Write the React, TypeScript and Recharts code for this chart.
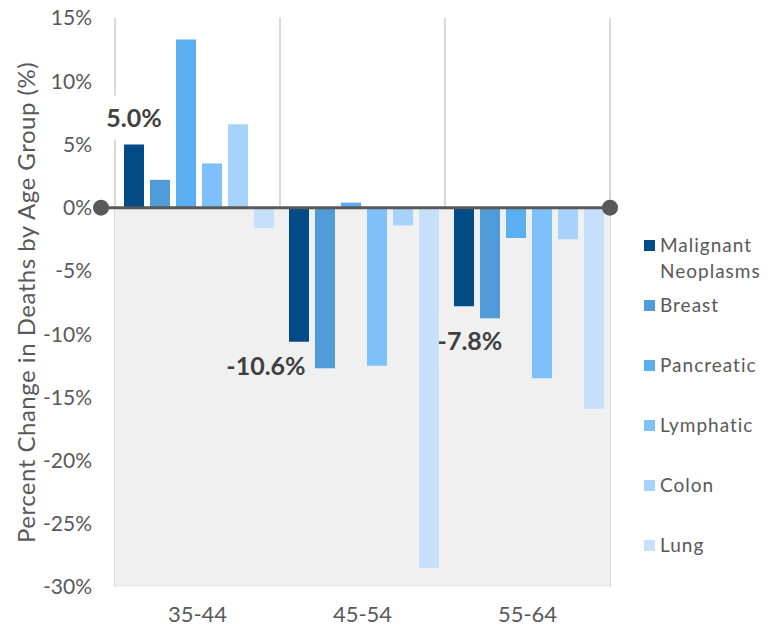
import React from 'react';
import {
  BarChart,
  Bar,
  XAxis,
  YAxis,
  CartesianGrid,
  ReferenceArea,
  ReferenceLine,
  LabelList,
} from 'recharts';

const categories = ['35-44', '45-54', '55-64'];
const malignant = [5.0, -10.6, -7.8];
const breast = [2.2, -12.7, -8.8];
const pancreatic = [13.3, 0.4, -2.4];
const lymphatic = [3.5, -12.5, -13.5];
const colon = [6.6, -1.4, -2.5];
const lung = [-1.6, -28.5, -15.9];

const yTicks = [-30, -25, -20, -15, -10, -5, 0, 5, 10, 15];

const seriesNames = ['Malignant Neoplasms', 'Breast', 'Pancreatic', 'Lymphatic', 'Colon', 'Lung'];
const seriesKeys = ['malignant', 'breast', 'pancreatic', 'lymphatic', 'colon', 'lung'];
const seriesColors = ['#024b86', '#509cd8', '#5aaff0', '#7dc0fa', '#a6d2fc', '#c6e0fb'];

const data = categories.map((cat, i) => ({
  cat,
  malignant: malignant[i],
  breast: breast[i],
  pancreatic: pancreatic[i],
  lymphatic: lymphatic[i],
  colon: colon[i],
  lung: lung[i],
}));

// hand-placed callout nudges, like the original
const labelNudge = [
  { dx: 0, dy: -27 },
  { dx: -33, dy: 23 },
  { dx: 6, dy: 34 },
];

const FONT = 'Lato, "Open Sans", sans-serif';
const GREY = '#595959';

const CalloutLabel = (props: any) => {
  const { x, y, width, height, value, index } = props;
  const top = Math.min(y, y + height);
  const bottom = Math.max(y, y + height);
  const n = labelNudge[index] || { dx: 0, dy: 0 };
  const cx = x + width / 2 + n.dx;
  const cy = (value >= 0 ? top : bottom) + n.dy;
  const text = `${value.toFixed(1)}%`;
  const w = text.length * 12.5;
  return (
    <g>
      <rect x={cx - w / 2} y={cy - 22} width={w} height={44} fill={value >= 0 ? '#ffffff' : '#f0f0f0'} />
      <text
        x={cx}
        y={cy}
        textAnchor="middle"
        dominantBaseline="central"
        fontFamily={FONT}
        fontWeight={700}
        fontSize={25}
        fill="#404040"
      >
        {text}
      </text>
    </g>
  );
};

const ZeroLine = (props: any) => {
  const { x1, y1, x2 } = props;
  const left = x1 - 14;
  return (
    <g>
      <line x1={left} y1={y1} x2={x2} y2={y1} stroke={GREY} strokeWidth={3} />
      <circle cx={left} cy={y1} r={8} fill={GREY} />
      <circle cx={x2} cy={y1} r={8} fill={GREY} />
    </g>
  );
};

const App: React.FC = () => {
  return (
    <div style={{ position: 'relative', width: 779, height: 629 }}>
      <style>{'body{margin:0}'}</style>
      <BarChart
        width={779}
        height={629}
        data={data}
        margin={{ top: 18, right: 169, bottom: 0, left: 0 }}
        barCategoryGap={9}
        barGap={6}
      >
        <ReferenceArea y1={-30} y2={0} fill="#f0f0f0" fillOpacity={1} stroke="none" />
        <CartesianGrid
          horizontal={false}
          stroke="#d9d9d9"
          strokeWidth={2}
          verticalCoordinatesGenerator={({ offset }: any) =>
            categories.concat(['end']).map((_, i) => offset.left + (i * offset.width) / categories.length)
          }
        />
        <XAxis
          dataKey="cat"
          axisLine={false}
          tickLine={false}
          height={42}
          tickMargin={13}
          tick={{ fill: GREY, fontSize: 22, fontFamily: FONT }}
        />
        <YAxis
          width={115}
          domain={[-30, 15]}
          ticks={yTicks}
          interval={0}
          axisLine={false}
          tickLine={false}
          tickSize={0}
          tickMargin={23}
          tickFormatter={(v: number) => `${v}%`}
          tick={{ fill: GREY, fontSize: 21, fontFamily: FONT }}
          label={{
            value: 'Percent Change in Deaths by Age Group (%)',
            angle: -90,
            position: 'insideLeft',
            offset: 26,
            style: { textAnchor: 'middle', fill: GREY, fontSize: 24, fontFamily: FONT, letterSpacing: 0.5 },
          }}
        />
        {seriesKeys.map((k, i) => (
          <Bar key={k} dataKey={k} name={seriesNames[i]} fill={seriesColors[i]} isAnimationActive={false}>
            {k === 'malignant' && <LabelList dataKey={k} content={CalloutLabel} />}
          </Bar>
        ))}
        <ReferenceLine y={0} shape={ZeroLine} />
      </BarChart>
      <div
        style={{
          position: 'absolute',
          left: 644,
          top: 232,
          fontFamily: FONT,
          fontSize: 19,
          color: GREY,
          letterSpacing: 1,
        }}
      >
        {seriesNames.map((name, i) => (
          <div key={name} style={{ height: 60, display: 'flex', alignItems: 'flex-start' }}>
            <span
              style={{
                display: 'inline-block',
                width: 11,
                height: 11,
                background: seriesColors[i],
                marginTop: 8,
                marginRight: 5,
                flex: 'none',
              }}
            />
            <span style={{ lineHeight: '26px', width: 120 }}>{name}</span>
          </div>
        ))}
      </div>
    </div>
  );
};

export default App;
